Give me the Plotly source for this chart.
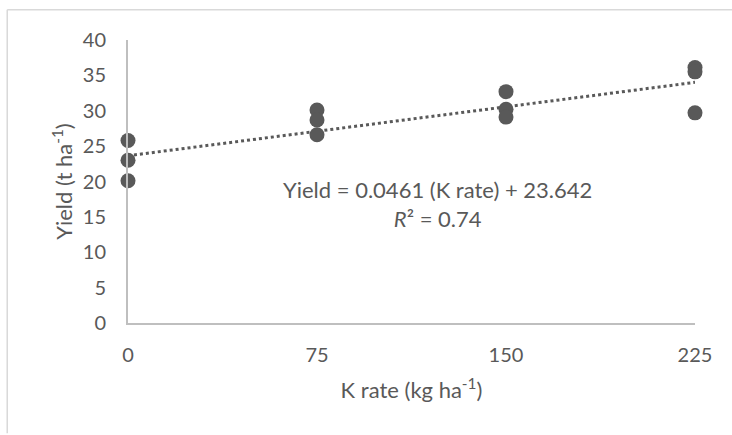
import plotly.graph_objects as go

k_rate = [0, 0, 0, 75, 75, 75, 150, 150, 150, 225, 225, 225]
yield_t = [25.8, 23.0, 20.1, 30.1, 28.7, 26.6, 32.7, 30.2, 29.1, 36.1, 35.5, 29.7]
slope = 0.0461
intercept = 23.642
trend_x = [0, 225]
trend_y = [intercept + slope * x for x in trend_x]
x_ticks = [0, 75, 150, 225]
y_ticks = [0, 5, 10, 15, 20, 25, 30, 35, 40]

grey = "#595959"
font = "Lato"

fig = go.Figure()
fig.add_trace(go.Scatter(x=trend_x, y=trend_y, mode="lines",
                         line=dict(color=grey, width=3, dash="dot"),
                         cliponaxis=False, showlegend=False))
fig.add_trace(go.Scatter(x=k_rate, y=yield_t, mode="markers",
                         marker=dict(color=grey, size=15),
                         cliponaxis=False, showlegend=False))

fig.update_layout(
    width=732, height=435,
    margin=dict(l=128, r=37, t=40, b=112),
    paper_bgcolor="white", plot_bgcolor="white",
    font=dict(family=font, color=grey, size=20),
    xaxis=dict(range=[0, 225], tickvals=x_ticks, showgrid=False, zeroline=False,
               showline=True, linecolor="#bfbfbf", linewidth=2, ticks="",
               ticklabelstandoff=13,
               title=dict(text="K rate (kg ha<sup>-1</sup>)", font=dict(size=22), standoff=18)),
    yaxis=dict(range=[0, 40], tickvals=y_ticks, showgrid=False, zeroline=False,
               showline=True, linecolor="#bfbfbf", linewidth=2, ticks="",
               ticklabelstandoff=16,
               title=dict(text="Yield (t ha<sup>-1</sup>)", font=dict(size=22), standoff=4)),
    annotations=[
        dict(x=0.546, y=0.42, xref="paper", yref="paper",
             text="Yield = 0.0461 (K rate) + 23.642<br><i>R</i>² = 0.74",
             showarrow=False, font=dict(size=22, color=grey), align="center"),
    ],
    shapes=[
        dict(type="line", xref="paper", yref="paper", x0=-0.213, x1=1.1, y0=1.107, y1=1.107,
             line=dict(color="#d9d9d9", width=1.5)),
        dict(type="line", xref="paper", yref="paper", x0=-0.213, x1=-0.213, y0=1.107, y1=-0.39,
             line=dict(color="#d9d9d9", width=1.5)),
    ],
)

fig.write_html("out.html")
